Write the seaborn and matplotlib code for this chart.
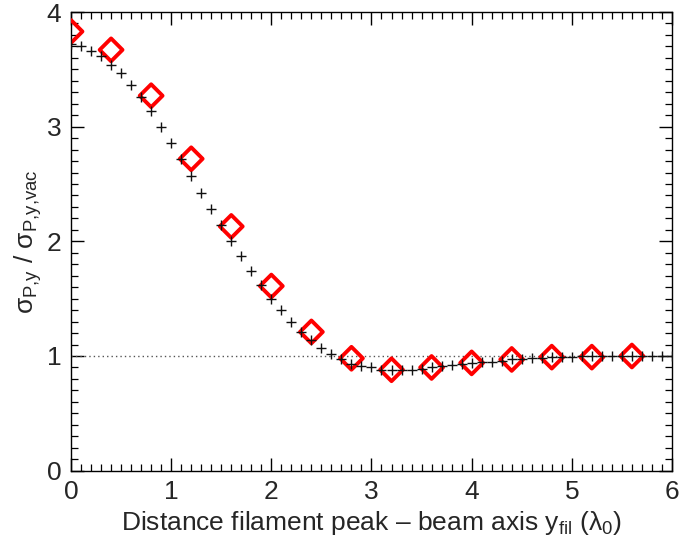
import numpy as np
import pandas as pd
import matplotlib
matplotlib.use("Agg")
import matplotlib.pyplot as plt
import seaborn as sns
from matplotlib.ticker import MultipleLocator

# ---- data ----
plus_x = [round(0.1 * i, 1) for i in range(61)]
plus_y = [3.72, 3.70, 3.66, 3.62, 3.54, 3.47, 3.36, 3.26, 3.14, 3.00,
          2.86, 2.72, 2.57, 2.42, 2.28, 2.14, 2.00, 1.87, 1.74, 1.62,
          1.50, 1.40, 1.30, 1.21, 1.14, 1.07, 1.02, 0.97, 0.93, 0.91,
          0.90, 0.88, 0.88, 0.88, 0.88, 0.89, 0.90, 0.91, 0.92, 0.93,
          0.94, 0.95, 0.95, 0.96, 0.97, 0.97, 0.98, 0.985, 0.99, 0.99,
          0.99, 1.00, 1.00, 1.00, 1.00, 1.00, 1.00, 1.00, 1.00, 1.00, 1.00]

diam_x = [0.0, 0.4, 0.8, 1.2, 1.6, 2.0, 2.4, 2.8, 3.2, 3.6, 4.0, 4.4, 4.8, 5.2, 5.6]
diam_y = [3.83, 3.67, 3.27, 2.72, 2.13, 1.61, 1.21, 0.98, 0.88, 0.90,
          0.94, 0.97, 0.99, 0.99, 1.00]

ref_level = 1.0
x_ticks = [0, 1, 2, 3, 4, 5, 6]
y_ticks = [0, 1, 2, 3, 4]

xlabel = "Distance filament peak \u2013 beam axis y$_{\\rm fil}$ (\u03bb$_{0}$)"
ylabel = "\u03c3$_{\\rm P{,}y}$ / \u03c3$_{\\rm P{,}y{,}vac}$"

sns.set_theme(style="ticks")
plt.rcParams["font.family"] = ["Liberation Sans", "DejaVu Sans"]
plt.rcParams["mathtext.fontset"] = "custom"
plt.rcParams["mathtext.rm"] = "Liberation Sans"
plt.rcParams["mathtext.it"] = "Liberation Sans"
plt.rcParams["mathtext.default"] = "regular"

df_plus = pd.DataFrame({"x": plus_x, "y": plus_y})
df_diam = pd.DataFrame({"x": diam_x, "y": diam_y})

fig = plt.figure(figsize=(6.79, 5.46), dpi=100)
ax = fig.add_axes([0.1046, 0.138, 0.885, 0.840])

ax.axhline(ref_level, color="#555555", linestyle=(0, (1, 2.2)), linewidth=1.0, zorder=1)

sns.scatterplot(data=df_diam, x="x", y="y", ax=ax, marker="D", s=135,
                facecolor="none", edgecolor="red", linewidth=2.8, zorder=3)
sns.scatterplot(data=df_plus, x="x", y="y", ax=ax, marker="+", s=42,
                color="#111111", linewidth=1.0, zorder=4)

ax.set_xlim(0, 6)
ax.set_ylim(0, 4)
ax.set_xticks(x_ticks)
ax.set_yticks(y_ticks)
ax.xaxis.set_minor_locator(MultipleLocator(0.1))
ax.yaxis.set_minor_locator(MultipleLocator(0.1))
ax.tick_params(which="both", direction="in", top=True, right=True, color="black")
ax.tick_params(which="major", length=9.5, width=1.0, labelsize=19, pad=7)
ax.tick_params(which="minor", length=5, width=0.9)
for s in ax.spines.values():
    s.set_color("black")
    s.set_linewidth(1.0)

ax.set_xlabel(xlabel, fontsize=19, labelpad=3)
ax.set_ylabel(ylabel, fontsize=19, labelpad=2)

fig.savefig("out.png", dpi=100)
